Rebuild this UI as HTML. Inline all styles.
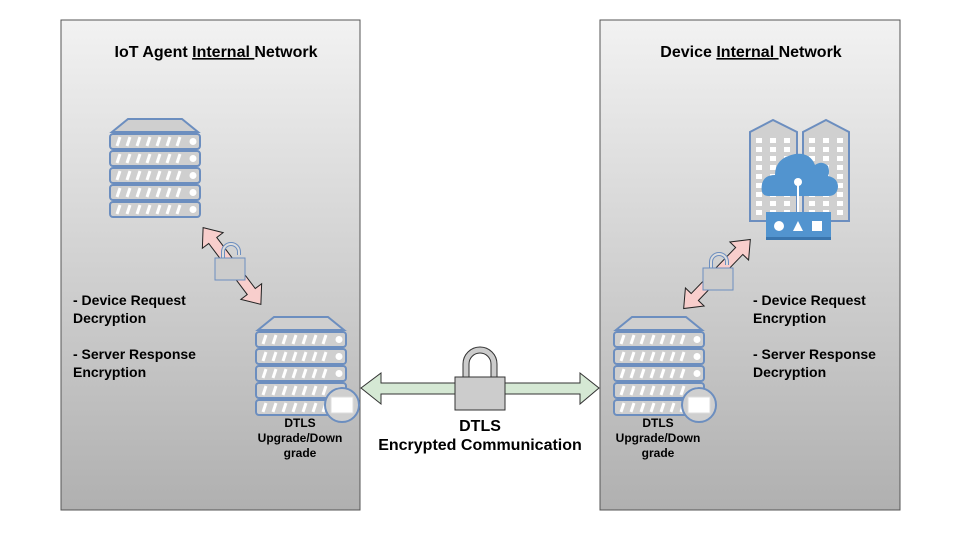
<!DOCTYPE html>
<html><head><meta charset="utf-8"><style>
html,body{margin:0;padding:0;background:#fff;width:961px;height:541px;overflow:hidden}
svg text{font-family:"Liberation Sans",Arial,sans-serif;font-weight:bold;fill:#000}
</style></head><body>
<svg width="961" height="541" viewBox="0 0 961 541" xmlns="http://www.w3.org/2000/svg">
<defs>
<linearGradient id="pg" x1="0" y1="0" x2="0" y2="1">
<stop offset="0" stop-color="#f2f2f2"/><stop offset="1" stop-color="#b0b0b0"/>
</linearGradient>
<g id="row">
<rect x="0" y="0" width="90" height="15" rx="3" fill="#cfcfcf" stroke="#6c8ebf" stroke-width="2"/>
<g stroke="#fff" stroke-width="3">
<line x1="7" y1="12" x2="10" y2="3"/><line x1="17" y1="12" x2="20" y2="3"/><line x1="27" y1="12" x2="30" y2="3"/><line x1="37" y1="12" x2="40" y2="3"/><line x1="47" y1="12" x2="50" y2="3"/><line x1="57" y1="12" x2="60" y2="3"/><line x1="67" y1="12" x2="70" y2="3"/>
</g>
<circle cx="83" cy="7.5" r="3.5" fill="#fff"/>
</g>
<g id="srv">
<path d="M2 14 L18 1 L72 1 L88 14 Z" fill="#cfcfcf" stroke="#6c8ebf" stroke-width="2"/>
<use href="#row" y="16"/><use href="#row" y="33"/><use href="#row" y="50"/><use href="#row" y="67"/><use href="#row" y="84"/>
</g>
<g id="lockopen">
<path d="M8 2 v-8 a8 8 0 0 1 16 0 v3" fill="none" stroke="#6c8ebf" stroke-width="4"/>
<path d="M8 2 v-8 a8 8 0 0 1 16 0 v3" fill="none" stroke="#ddd" stroke-width="2"/>
<rect x="0" y="0" width="30" height="22" fill="#cccccc" stroke="#6c8ebf" stroke-width="1"/>
</g>
<g id="wrow" fill="#fff">
<rect x="0" y="0" width="6" height="5"/><rect x="14" y="0" width="6" height="5"/><rect x="28" y="0" width="6" height="5"/>
</g>
<g id="wcol">
<use href="#wrow" y="0"/><use href="#wrow" y="9"/><use href="#wrow" y="18"/><use href="#wrow" y="27"/><use href="#wrow" y="36"/><use href="#wrow" y="45"/><use href="#wrow" y="54"/><use href="#wrow" y="63"/><use href="#wrow" y="72"/>
</g>
</defs>

<rect x="61" y="20" width="299" height="490" fill="url(#pg)" stroke="#555" stroke-width="1"/>
<rect x="600" y="20" width="300" height="490" fill="url(#pg)" stroke="#555" stroke-width="1"/>

<text x="216" y="57" font-size="16" text-anchor="middle">IoT Agent <tspan text-decoration="underline">Internal </tspan>Network</text>
<text x="751" y="57" font-size="16" text-anchor="middle">Device <tspan text-decoration="underline">Internal </tspan>Network</text>

<use href="#srv" x="110" y="118"/>
<use href="#srv" x="256" y="316"/>
<use href="#srv" x="614" y="316"/>
<circle cx="342" cy="405" r="17" fill="#cfcfcf" stroke="#6c8ebf" stroke-width="2"/>
<rect x="331" y="397" width="22" height="16" fill="#fff" stroke="#ddd"/>
<circle cx="699" cy="405" r="17" fill="#cfcfcf" stroke="#6c8ebf" stroke-width="2"/>
<rect x="688" y="397" width="22" height="16" fill="#fff" stroke="#ddd"/>

<g transform="translate(232,266) rotate(53)">
<path d="M-48 0 L-32 -13 L-32 -5 L32 -5 L32 -13 L48 0 L32 13 L32 5 L-32 5 L-32 13 Z" fill="#f8cecc" stroke="#222" stroke-width="1"/>
</g>
<use href="#lockopen" x="215" y="258"/>
<g transform="translate(717,274) rotate(-46)">
<path d="M-48 0 L-32 -13 L-32 -5 L32 -5 L32 -13 L48 0 L32 13 L32 5 L-32 5 L-32 13 Z" fill="#f8cecc" stroke="#222" stroke-width="1"/>
</g>
<use href="#lockopen" x="703" y="268"/>

<path d="M750 221 V132 L773 120 L797 132 V221 Z" fill="#d0d0d0" stroke="#6c8ebf" stroke-width="2"/>
<path d="M803 221 V132 L826 120 L849 132 V221 Z" fill="#d0d0d0" stroke="#6c8ebf" stroke-width="2"/>
<use href="#wcol" x="756" y="138"/>
<use href="#wcol" x="809" y="138"/>
<path d="M768 196 Q760 196 762 184 Q764 175 775 175 Q775 158 795 154 Q810 152 815 165 Q822 160 828 166 Q830 172 828 176 Q838 178 838 187 Q837 196 828 196 Z" fill="#5294cf"/>
<line x1="798" y1="182" x2="798" y2="212" stroke="#fff" stroke-width="2"/>
<circle cx="798" cy="182" r="4" fill="#fff"/>
<rect x="766" y="212" width="65" height="28" fill="#5294cf"/>
<rect x="766" y="237" width="65" height="3" fill="#3a75ad"/>
<circle cx="779" cy="226" r="5" fill="#fff"/>
<path d="M793 231 L798 221 L803 231 Z" fill="#fff"/>
<rect x="812" y="221" width="10" height="10" fill="#fff"/>

<path d="M361 388 L381 373 L381 383 L580 383 L580 373 L599 388 L580 404 L580 394 L381 394 L381 404 Z" fill="#d5e8d4" stroke="#333" stroke-width="1"/>
<path d="M466 377 V364 a14 14 0 0 1 28 0 V377" fill="none" stroke="#333" stroke-width="7"/>
<path d="M466 377 V364 a14 14 0 0 1 28 0 V377" fill="none" stroke="#ccc" stroke-width="5"/>
<rect x="455" y="377" width="50" height="33" fill="#cccccc" stroke="#333" stroke-width="1"/>

<text x="480" y="431" font-size="16" text-anchor="middle">DTLS</text>
<text x="480" y="450" font-size="16" text-anchor="middle">Encrypted Communication</text>

<g font-size="14">
<text x="73" y="305">- Device Request</text>
<text x="73" y="323">Decryption</text>
<text x="73" y="359">- Server Response</text>
<text x="73" y="377">Encryption</text>
<text x="753" y="305">- Device Request</text>
<text x="753" y="323">Encryption</text>
<text x="753" y="359">- Server Response</text>
<text x="753" y="377">Decryption</text>
</g>
<g font-size="12" text-anchor="middle">
<text x="300" y="427">DTLS</text><text x="300" y="442">Upgrade/Down</text><text x="300" y="457">grade</text>
<text x="658" y="427">DTLS</text><text x="658" y="442">Upgrade/Down</text><text x="658" y="457">grade</text>
</g>
</svg>
</body></html>
